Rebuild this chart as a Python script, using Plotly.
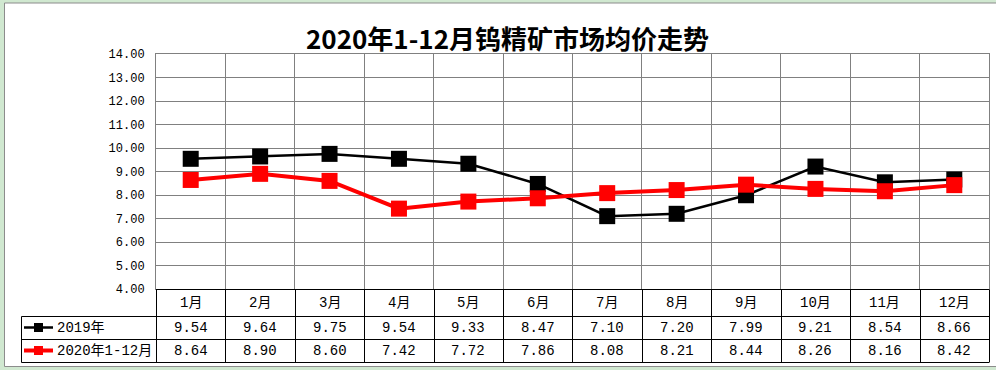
import plotly.graph_objects as go

months = ["1月", "2月", "3月", "4月", "5月", "6月", "7月", "8月", "9月", "10月", "11月", "12月"]
s2019 = [9.54, 9.64, 9.75, 9.54, 9.33, 8.47, 7.10, 7.20, 7.99, 9.21, 8.54, 8.66]
s2020 = [8.64, 8.90, 8.60, 7.42, 7.72, 7.86, 8.08, 8.21, 8.44, 8.26, 8.16, 8.42]
name2019 = "2019年"
name2020 = "2020年1-12月"
title = "2020年1-12月钨精矿市场均价走势"

W, H = 996, 370
L, R, T, B = 156, 7, 54, 81
PW, PH = W - L - R, H - T - B

def px(x):
    return (x - L) / PW

def py(y):
    return (H - B - y) / PH

MONO = "Liberation Mono, Noto Sans CJK SC, monospace"
CJK = "Noto Sans CJK SC, sans-serif"
n = len(months)
xs = list(range(n))

fig = go.Figure()
fig.add_trace(go.Scatter(x=xs, y=s2019, mode="lines+markers", name=name2019,
                         line=dict(color="#000000", width=2.5),
                         marker=dict(symbol="square", size=16, color="#000000")))
fig.add_trace(go.Scatter(x=xs, y=s2020, mode="lines+markers", name=name2020,
                         line=dict(color="#ff0000", width=4),
                         marker=dict(symbol="square", size=16, color="#ff0000")))

shapes = []
ann = []
# white chart area
shapes.append(dict(type="rect", xref="paper", yref="paper", x0=px(4.5), x1=px(1000), y0=py(366.5), y1=py(3),
                   fillcolor="#ffffff", line=dict(color="#8c8c8c", width=1), layer="below"))

# table (pixel rows, +0.5 for crisp 1px lines)
row_px = [289, 316, 339, 362]
rows = [py(r) for r in row_px]
rl = [py(r + 0.5) for r in row_px]
tl = px(21.5)
black = dict(color="#000000", width=1)
shapes.append(dict(type="line", xref="paper", yref="paper", x0=0, x1=1, y0=rl[0], y1=rl[0], line=black))
for r in rl[1:]:
    shapes.append(dict(type="line", xref="paper", yref="paper", x0=tl, x1=1, y0=r, y1=r, line=black))
shapes.append(dict(type="line", xref="paper", yref="paper", x0=tl, x1=tl, y0=rl[1], y1=rl[3], line=black))
for i in range(n + 1):
    xv = px(round(L + PW * i / n) + 0.5)
    shapes.append(dict(type="line", xref="paper", yref="paper", x0=xv, x1=xv, y0=rl[0], y1=rl[3], line=black))

cell_font = dict(family=MONO, size=14, color="#000000")
for i in range(n):
    xc = (i + 0.5) / n
    ann.append(dict(xref="paper", yref="paper", x=xc, y=(rows[0] + rows[1]) / 2, text=months[i],
                    xanchor="center", yanchor="middle", showarrow=False, font=cell_font))
    ann.append(dict(xref="paper", yref="paper", x=xc, y=(rows[1] + rows[2]) / 2, text=f"{s2019[i]:.2f}",
                    xanchor="center", yanchor="middle", showarrow=False, font=cell_font))
    ann.append(dict(xref="paper", yref="paper", x=xc, y=(rows[2] + rows[3]) / 2, text=f"{s2020[i]:.2f}",
                    xanchor="center", yanchor="middle", showarrow=False, font=cell_font))

for (nm, col, lw, ri) in [(name2019, "#000000", 2.5, 1), (name2020, "#ff0000", 4, 2)]:
    yc = (rows[ri] + rows[ri + 1]) / 2
    shapes.append(dict(type="line", xref="paper", yref="paper", x0=px(24), x1=px(53), y0=yc, y1=yc,
                       line=dict(color=col, width=lw)))
    shapes.append(dict(type="rect", xref="paper", yref="paper", x0=px(34), x1=px(43), y0=yc - 4.5 / PH, y1=yc + 4.5 / PH,
                       fillcolor=col, line=dict(color=col, width=0)))
    ann.append(dict(xref="paper", yref="paper", x=px(55), y=yc, xanchor="left", yanchor="middle", text=nm,
                    showarrow=False, font=cell_font))

ann.append(dict(xref="paper", yref="paper", x=px(507), y=py(37), text=f"<b>{title}</b>", showarrow=False,
                xanchor="center", yanchor="middle",
                font=dict(family=CJK, size=26, color="#000000")))

fig.update_layout(
    width=W, height=H,
    margin=dict(l=L, r=R, t=T, b=B, pad=0),
    paper_bgcolor="#d0e8d0",
    plot_bgcolor="#ffffff",
    showlegend=False,
    shapes=shapes,
    annotations=ann,
    xaxis=dict(range=[-0.5, n - 0.5], tick0=-0.5, dtick=1, showticklabels=False, showgrid=True,
               gridcolor="#808080", gridwidth=1, zeroline=False, showline=True, linecolor="#808080",
               mirror=True, ticks=""),
    yaxis=dict(range=[4, 14], dtick=1, tickformat=".2f", showgrid=True, gridcolor="#808080", gridwidth=1,
               zeroline=False, showline=True, linecolor="#808080", mirror=True, ticks="",
               ticklabelstandoff=8, tickfont=dict(family=MONO, size=12, color="#000000")),
)

fig.write_html("out.html", config={"displayModeBar": False},
               post_script="document.body.style.margin='0';document.body.style.overflow='hidden';")
